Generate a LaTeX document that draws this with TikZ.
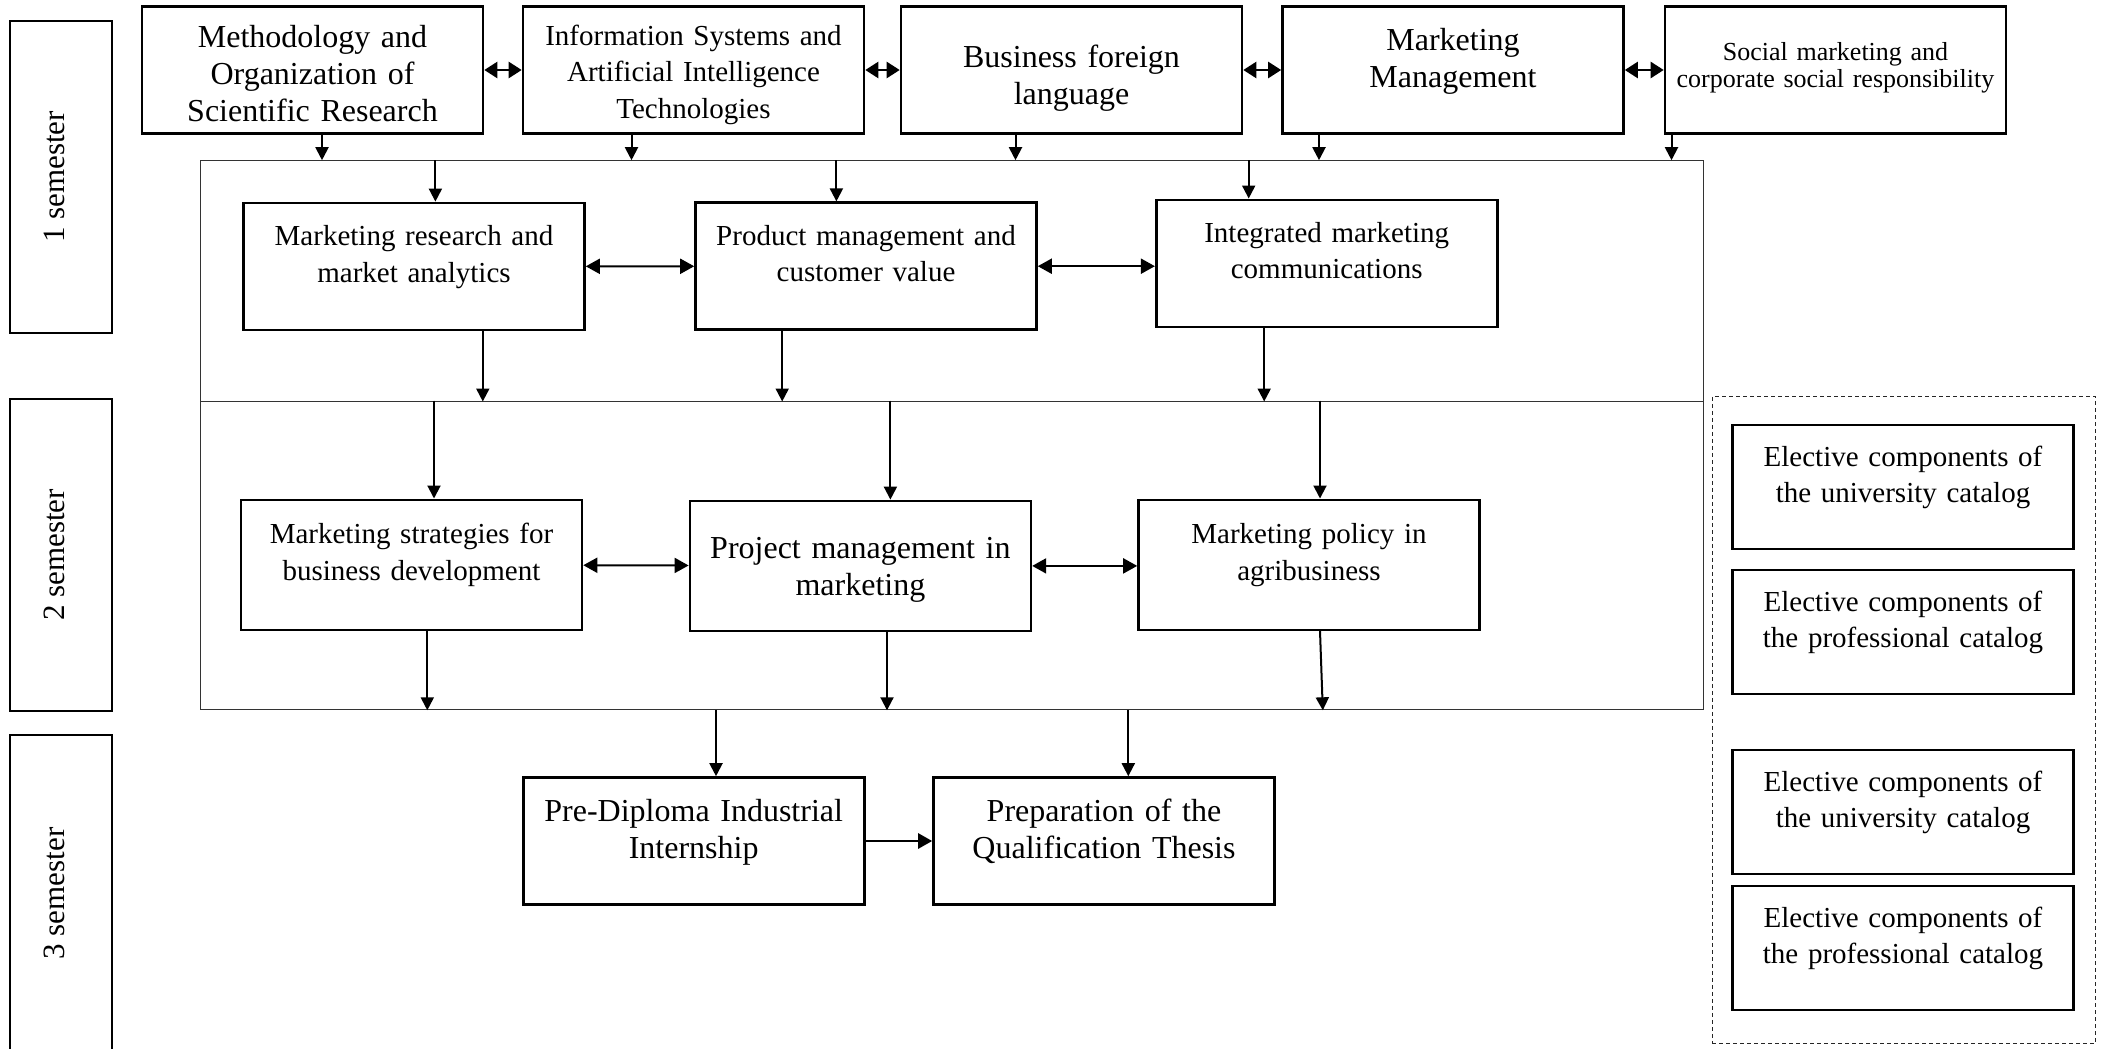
\documentclass[tikz,border=0pt]{standalone}
\usepackage{fontspec}
\setmainfont{Liberation Serif}
\usetikzlibrary{arrows.meta}

\begin{document}
\begin{tikzpicture}[
    x=0.5pt, y=-0.5pt,
    box/.style={draw, line width=1.3pt, minimum width=170.5pt, minimum height=63.5pt,
                text width=165pt, align=center, inner sep=0pt,
                text height=12pt, text depth=33pt},
    big/.style={font=\fontsize{16}{18.5}\selectfont},
    mid/.style={font=\fontsize{14.5}{18.3}\selectfont},
    small/.style={font=\fontsize{13}{13.7}\selectfont},
    elective/.style={font=\fontsize{14.5}{18}\selectfont, minimum height=62pt},
    semester/.style={draw, line width=1pt, rotate=90, minimum height=51pt,
                     font=\fontsize{15.5}{18}\selectfont, text depth=7pt},
    block/.style={draw=black!80, line width=0.5pt, minimum width=751.1pt, inner sep=0pt},
    arrow/.style={-{Triangle[length=6.5pt, width=6.5pt]}, line width=1pt},
    both/.style={{Triangle[length=7pt, width=7.5pt]}-{Triangle[length=7pt, width=7.5pt]}, line width=1pt},
    link/.style={{Triangle[length=6.5pt, width=8pt]}-{Triangle[length=6.5pt, width=8pt]}, line width=1.2pt},
    flow/.style={-{Triangle[length=7pt, width=7.5pt]}, line width=1.3pt}
]
\useasboundingbox (0,0) rectangle (2109,1049);

% Semester labels
\node[semester, minimum width=156pt] (sem1) at (61,177) {1 semester};
\node[semester, minimum width=156pt] (sem2) at (61,555) {2 semester};
\node[semester, minimum width=158.5pt] (sem3) at (61,893.5) {3 semester};

% Semester blocks
\node[block, minimum height=120.15pt] (blk1) at (951.9,280.85) {};
\node[block, minimum height=154.4pt] (blk2) at (951.9,555.4) {};

% General courses (top row)
\node[box, big, text depth=35pt] (mosr) at (312.5,70) {Methodology and\\Organization of\\Scientific Research};
\node[box, mid, text depth=37pt] (isai) at (693.5,70) {Information Systems and\\Artificial Intelligence\\Technologies};
\node[box, big, text depth=15pt] (bfl) at (1071.5,70) {Business foreign\\language};
\node[box, big, text depth=32pt] (mm) at (1453,70) {Marketing\\Management};
\node[box, small, text depth=22pt] (smcsr) at (1835.5,70) {Social marketing and\\corporate social responsibility};

% Semester 1
\node[box, mid] (mrma) at (414,266.4) {Marketing research and\\market analytics};
\node[box, mid] (pmcv) at (866,266.2) {Product management and\\customer value};
\node[box, mid] (imc) at (1326.7,263.3) {Integrated marketing\\communications};

% Semester 2
\node[box, mid, minimum height=65pt] (msbd) at (411.5,564.8) {Marketing strategies for\\business development};
\node[box, big, minimum height=65pt, text depth=19pt] (pmm) at (860.4,565.9) {Project management in\\marketing};
\node[box, mid, minimum height=65pt] (mpa) at (1309,564.8) {Marketing policy in\\agribusiness};

% Semester 3
\node[box, big, text depth=32pt] (pdii) at (693.7,841) {Pre-Diploma Industrial\\Internship};
\node[box, big, text depth=32pt] (pqt) at (1104,841) {Preparation of the\\Qualification Thesis};

% Elective components
\node[draw=black!85, dash pattern=on 2pt off 1.5pt, line width=0.5pt, minimum width=191.75pt, minimum height=323.35pt] (elect) at (1903.75,720) {};
\node[box, elective] (ucat1) at (1903,487) {Elective components of\\the university catalog};
\node[box, elective] (pcat1) at (1903,632) {Elective components of\\the professional catalog};
\node[box, elective] (ucat2) at (1903,812) {Elective components of\\the university catalog};
\node[box, elective] (pcat2) at (1903,948) {Elective components of\\the professional catalog};

% Links between general courses
\draw[link] (mosr) -- (isai);
\draw[link] (isai) -- (bfl);
\draw[link] (bfl) -- (mm);
\draw[link] (mm) -- (smcsr);

% General courses feed semester 1
\draw[arrow] ([xshift=4.75pt]mosr.south) -- ([xshift=4.75pt]mosr.south |- blk1.north);
\draw[arrow] ([xshift=-31pt]isai.south) -- ([xshift=-31pt]isai.south |- blk1.north);
\draw[arrow] ([xshift=-28pt]bfl.south) -- ([xshift=-28pt]bfl.south |- blk1.north);
\draw[arrow] ([xshift=-67pt]mm.south) -- ([xshift=-67pt]mm.south |- blk1.north);
\draw[arrow] ([xshift=-82pt]smcsr.south) -- ([xshift=-82pt]smcsr.south |- blk1.north);

% Semester 1 flow
\draw[arrow] ([xshift=10.7pt]mrma.north |- blk1.north) -- ([xshift=10.7pt]mrma.north);
\draw[arrow] ([xshift=-14.8pt]pmcv.north |- blk1.north) -- ([xshift=-14.8pt]pmcv.north);
\draw[arrow] ([xshift=-39pt]imc.north |- blk1.north) -- ([xshift=-39pt]imc.north);
\draw[both] (mrma) -- (pmcv);
\draw[both] (pmcv) -- (pmcv -| imc.west);
\draw[arrow] ([xshift=34.4pt]mrma.south) -- ([xshift=34.4pt]mrma.south |- blk1.south);
\draw[arrow] ([xshift=-41.9pt]pmcv.south) -- ([xshift=-41.9pt]pmcv.south |- blk1.south);
\draw[arrow] ([xshift=-31.25pt]imc.south) -- ([xshift=-31.25pt]imc.south |- blk1.south);

% Semester 2 flow
\draw[arrow] ([xshift=11.25pt]msbd.north |- blk2.north) -- ([xshift=11.25pt]msbd.north);
\draw[arrow] ([xshift=15pt]pmm.north |- blk2.north) -- ([xshift=15pt]pmm.north);
\draw[arrow] ([xshift=5.5pt]mpa.north |- blk2.north) -- ([xshift=5.5pt]mpa.north);
\draw[both] (msbd) -- (pmm);
\draw[both] (pmm) -- (pmm -| mpa.west);
\draw[arrow] ([xshift=7.9pt]msbd.south) -- ([xshift=7.9pt]msbd.south |- blk2.south);
\draw[arrow] ([xshift=13.3pt]pmm.south) -- ([xshift=13.3pt]pmm.south |- blk2.south);
\draw[arrow] ([xshift=5.5pt]mpa.south) -- ([xshift=6.9pt]mpa.south |- blk2.south);

% Semester 3 flow
\draw[arrow] ([xshift=11.15pt]pdii.north |- blk2.south) -- ([xshift=11.15pt]pdii.north);
\draw[arrow] ([xshift=12.15pt]pqt.north |- blk2.south) -- ([xshift=12.15pt]pqt.north);
\draw[flow] (pdii) -- (pqt);

\end{tikzpicture}
\end{document}
